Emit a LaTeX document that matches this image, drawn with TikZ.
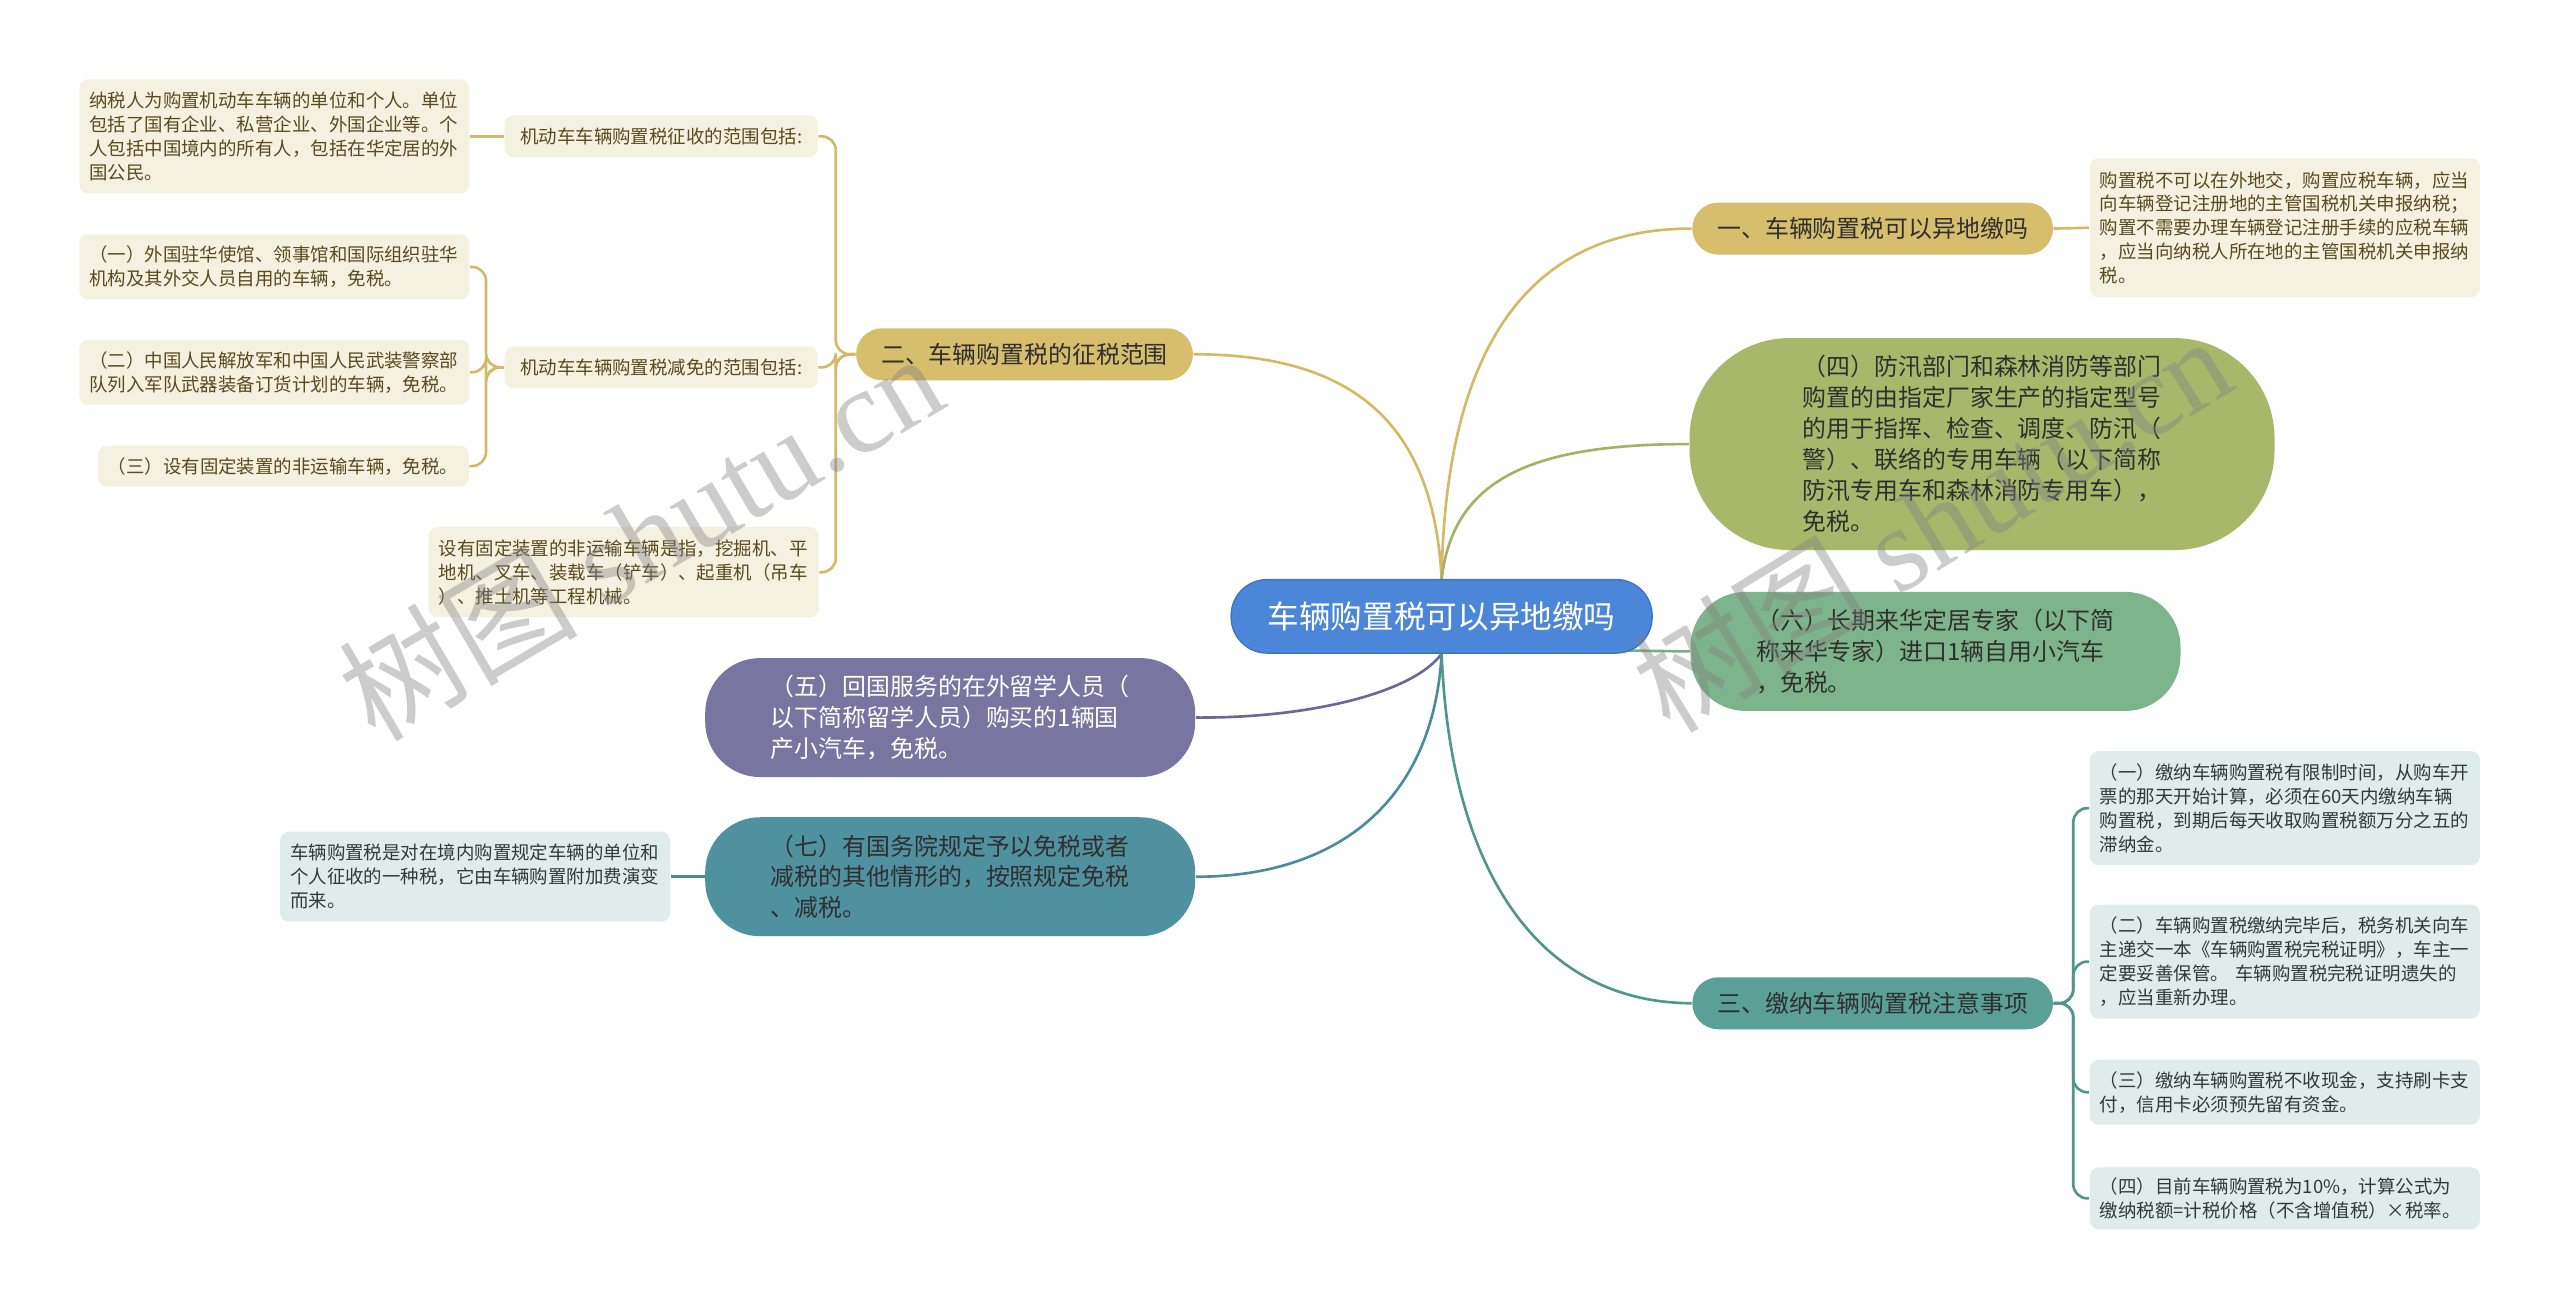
\documentclass[tikz,border=0pt]{standalone}
\usepackage{fontspec}
\setmainfont{Noto Sans CJK SC}
\newfontfamily\wmfont{Liberation Serif}
\usetikzlibrary{positioning, calc, backgrounds}
\definecolor{rootFill}{HTML}{4C86D9}
\definecolor{rootLine}{HTML}{3F74C2}
\definecolor{tanFill}{HTML}{D6BE6C}
\definecolor{tanWire}{HTML}{D2BA68}
\definecolor{tanNote}{HTML}{F5F1E1}
\definecolor{tanText}{HTML}{5A4A1C}
\definecolor{oliveFill}{HTML}{A9B76B}
\definecolor{oliveWire}{HTML}{A4B266}
\definecolor{greenFill}{HTML}{7DB48B}
\definecolor{greenWire}{HTML}{78AE86}
\definecolor{purpleFill}{HTML}{7876A0}
\definecolor{purpleWire}{HTML}{6C6896}
\definecolor{tealFill}{HTML}{5091A0}
\definecolor{tealWire}{HTML}{4A8C9A}
\definecolor{seaFill}{HTML}{5AA096}
\definecolor{seaWire}{HTML}{4F978C}
\definecolor{blueNote}{HTML}{E0ECEC}
\definecolor{blueText}{HTML}{2E3B3C}
\definecolor{darkText}{HTML}{2F2F2F}

\begin{document}
\begin{tikzpicture}[x=0.016327cm, y=-0.016327cm,
  rootbox/.style={fill=rootFill, draw=rootLine, line width=0.4pt, text=white, rounded corners=0.36cm, minimum width=4.21cm, minimum height=0.735cm, font=\fontsize{9}{11}\selectfont},
  topicbox/.style={rounded corners=0.26cm, minimum height=0.52cm, inner xsep=0.25cm, inner ysep=0pt, font=\fontsize{6.8}{8.8}\selectfont},
  bubblebox/.style={rounded corners=0.55cm, align=left, inner sep=0pt, minimum width=4.9cm, minimum height=1.19cm, font=\fontsize{6.8}{8.8}\selectfont},
  notebox/.style={rounded corners=2.5pt, align=left, text width=3.7cm, inner xsep=0.1cm, inner ysep=0pt, font=\fontsize{5.25}{6.78}\selectfont},
  labelbox/.style={fill=tanNote, text=tanText, rounded corners=2.5pt, minimum width=3.13cm, minimum height=0.42cm, inner sep=0pt, font=\fontsize{5.25}{6.78}\selectfont},
  wire/.style={line width=0.75pt},
  wmark/.style={text=gray, text opacity=0.4, font=\fontsize{34}{34}\selectfont, inner sep=0pt}]
\useasboundingbox (0,0) rectangle (1568,803);
% centre
\node[rootbox] (root) at (883,377.5) {车辆购置税可以异地缴吗};
% right side
\node[topicbox, fill=tanFill, text=darkText] (one) at (1147,140) {一、车辆购置税可以异地缴吗};
\node[notebox, fill=tanNote, text=tanText, minimum height=1.39cm] (oneNote) at (1399.5,139.5) {购置税不可以在外地交，购置应税车辆，应当\\向车辆登记注册地的主管国税机关申报纳税；\\购置不需要办理车辆登记注册手续的应税车辆\\，应当向纳税人所在地的主管国税机关申报纳\\税。};
\node[bubblebox, fill=oliveFill, text=darkText, minimum width=5.85cm, minimum height=2.12cm, rounded corners=1cm] (four) at (1214,272) {（四）防汛部门和森林消防等部门\\购置的由指定厂家生产的指定型号\\的用于指挥、检查、调度、防汛（\\警）、联络的专用车辆（以下简称\\防汛专用车和森林消防专用车），\\免税。};
\node[bubblebox, fill=greenFill, text=darkText] (six) at (1185.5,399) {（六）长期来华定居专家（以下简\\称来华专家）进口1辆自用小汽车\\，免税。};
\node[topicbox, fill=seaFill, text=darkText] (three) at (1147,614.5) {三、缴纳车辆购置税注意事项};
\node[notebox, fill=blueNote, text=blueText, minimum height=1.14cm] (threeA) at (1399.5,495) {（一）缴纳车辆购置税有限制时间，从购车开\\票的那天开始计算，必须在60天内缴纳车辆\\购置税，到期后每天收取购置税额万分之五的\\滞纳金。};
\node[notebox, fill=blueNote, text=blueText, minimum height=1.14cm] (threeB) at (1399.5,589) {（二）车辆购置税缴纳完毕后，税务机关向车\\主递交一本《车辆购置税完税证明》，车主一\\定要妥善保管。 车辆购置税完税证明遗失的\\，应当重新办理。};
\node[notebox, fill=blueNote, text=blueText, minimum height=0.65cm] (threeC) at (1399.5,669) {（三）缴纳车辆购置税不收现金，支持刷卡支\\付，信用卡必须预先留有资金。};
\node[notebox, fill=blueNote, text=blueText, minimum height=0.62cm] (threeD) at (1399.5,734) {（四）目前车辆购置税为10\%，计算公式为\\缴纳税额=计税价格（不含增值税）×税率。};
% left side
\node[topicbox, fill=tanFill, text=darkText] (two) at (627.5,217) {二、车辆购置税的征税范围};
\node[labelbox] (levy) at (405,83.5) {机动车车辆购置税征收的范围包括:};
\node[notebox, fill=tanNote, text=tanText, minimum height=1.14cm] (levyNote) at (168,83.5) {纳税人为购置机动车车辆的单位和个人。单位\\包括了国有企业、私营企业、外国企业等。个\\人包括中国境内的所有人，包括在华定居的外\\国公民。};
\node[labelbox] (relief) at (405,225) {机动车车辆购置税减免的范围包括:};
\node[notebox, fill=tanNote, text=tanText, minimum height=0.65cm] (reliefA) at (168,163.5) {（一）外国驻华使馆、领事馆和国际组织驻华\\机构及其外交人员自用的车辆，免税。};
\node[notebox, fill=tanNote, text=tanText, minimum height=0.65cm] (reliefB) at (168,228) {（二）中国人民解放军和中国人民武装警察部\\队列入军队武器装备订货计划的车辆，免税。};
\node[notebox, fill=tanNote, text=tanText, minimum height=0.41cm, text width=3.51cm] (reliefC) at (173.5,285.5) {（三）设有固定装置的非运输车辆，免税。};
\node[notebox, fill=tanNote, text=tanText, minimum height=0.9cm] (fixedNote) at (382,350.5) {设有固定装置的非运输车辆是指，挖掘机、平\\地机、叉车、装载车（铲车）、起重机（吊车\\）、推土机等工程机械。};
\node[bubblebox, fill=purpleFill, text=white] (five) at (582,439.5) {（五）回国服务的在外留学人员（\\以下简称留学人员）购买的1辆国\\产小汽车，免税。};
\node[bubblebox, fill=tealFill, text=darkText] (seven) at (582,537) {（七）有国务院规定予以免税或者\\减税的其他情形的，按照规定免税\\、减税。};
\node[notebox, fill=blueNote, text=blueText, minimum height=0.9cm] (sevenNote) at (291,537) {车辆购置税是对在境内购置规定车辆的单位和\\个人征收的一种税，它由车辆购置附加费演变\\而来。};
% connectors
\begin{scope}[on background layer]
\fill[white] (0,0) rectangle (1568,803);
\draw[wire, tanWire] (root.north) .. controls (885,230) and (925,140) .. (one.west);
\draw[wire, tanWire] (root.north) .. controls (878,260) and (830,217) .. (two.east);
\draw[wire, oliveWire] (root.north) .. controls (890,295) and (935,272) .. (four.west);
\draw[wire, greenWire] (root.south east) ++(-18,-2) -- (six.west);
\draw[wire, purpleWire] (root.south) .. controls (865,425) and (800,440) .. (five.east);
\draw[wire, tealWire] (root.south) .. controls (878,490) and (820,537) .. (seven.east);
\draw[wire, seaWire] (root.south) .. controls (888,530) and (940,614) .. (three.west);
\draw[wire, tanWire] (one.east) -- (oneNote.west);
\foreach \kid in {levy, relief, fixedNote}
  \draw[wire, tanWire, rounded corners=4pt] (two.west) -- ++(-12,0) |- (\kid.east);
\draw[wire, tanWire] (levy.west) -- (levy.west -| levyNote.east);
\foreach \kid in {reliefA, reliefB, reliefC}
  \draw[wire, tanWire, rounded corners=4pt] (relief.west) -- ++(-11,0) |- (\kid.east);
\foreach \kid in {threeA, threeB, threeC, threeD}
  \draw[wire, seaWire, rounded corners=4pt] (three.east) -- ++(12,0) |- (\kid.west);
\draw[wire, tealWire] (seven.west) -- (sevenNote.east);
\end{scope}
% watermark
\node[wmark, rotate=30.5] (wmLeft) at (392,328) {树图 {\wmfont shutu.cn}};
\node[wmark, rotate=31.5] (wmRight) at (1183,320) {树图 {\wmfont shutu.cn}};
\end{tikzpicture}
\end{document}
